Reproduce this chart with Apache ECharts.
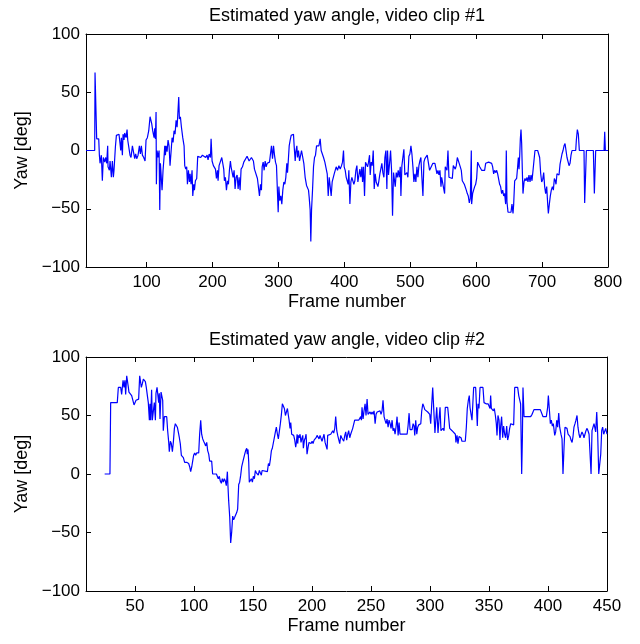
<!DOCTYPE html>
<html>
<head>
<meta charset="utf-8">
<script src="https://cdn.jsdelivr.net/npm/echarts@6/dist/echarts.min.js"></script>
<style>
html, body { margin: 0; padding: 0; background: #fff; }
#main { width: 640px; height: 644px; }
</style>
</head>
<body>
<div id="main"></div>
<script>
// [frame, yaw in deg]
var clip1Yaw = [
    [8,0],[21.2,0],[21.7,67],[23.7,67],[24.2,10],[27.3,10],[28.3,-4],[29.3,-11],[31.3,-4],[32.8,-26],
    [34.3,-6],[36.4,-10],[37.9,-6],[39.4,-11],[40.9,4],[41.4,-14],[43.5,-17],[44.5,-9],[46.5,-23],[48,-9],
    [49.5,-23],[50.5,-17],[52.6,3],[54.1,13],[56.6,14],[58.1,14],[59.6,6],[60.7,0],[61.7,11],[63.2,-4],
    [64.2,14],[65.7,9],[66.7,15],[68.8,11],[70.3,18],[71.3,9],[73.3,9],[74.8,-4],[76.3,-6],[78.4,4],
    [80.4,4],[81.9,-7],[83.4,-3],[84.9,-7],[87,-4],[89,4],[90.5,-3],[92,4],[93.6,-4],[95.6,-6],
    [97.6,-9],[99.1,9],[101.1,11],[103.2,17],[105.2,29],[106.2,30],[107.7,23],[109.2,17],[110.2,14],[111.3,11],
    [112.3,19],[113.3,10],[114.3,33],[114.8,-29],[115.8,0],[117.3,-6],[118.9,0],[119.9,-51],[120.9,-11],[122.4,-10],
    [123.4,-34],[124.9,-17],[126.4,-6],[127.5,4],[128.5,-4],[129.5,4],[131,-1],[132.5,9],[134,4],[135.5,-13],
    [137.6,3],[138.6,11],[140.1,7],[141.6,17],[143.1,14],[144.7,26],[146.2,20],[147.2,30],[148.7,46],[149.7,27],
    [151.2,29],[152.8,20],[154.8,11],[156.8,4],[157.8,-13],[159.3,-16],[160.8,-14],[161.9,-29],[163.4,-17],[164.9,-27],
    [165.9,-20],[167.4,-29],[168.9,-17],[170,-39],[171.5,-29],[172.5,-34],[174,-26],[176,-24],[177.5,-5],[179.6,-5],
    [182.1,-6],[184.6,-4],[187.2,-5],[189.7,-6],[191.7,-4],[193.2,-8],[194.8,-3],[196.8,-6],[197.8,10],[199.3,-9],
    [201.3,-13],[202.8,-13],[204.4,-16],[205.9,-24],[207.4,-17],[208.4,-26],[209.9,-13],[212,-13],[214,-6],[216,-5],
    [217,-16],[218,-26],[219.5,-23],[221.1,-34],[222.6,-26],[224.1,-29],[225.6,-17],[227.1,-9],[228.1,-14],[229.7,-13],
    [231.2,-23],[232.7,-17],[234.2,-33],[235.7,-23],[237.3,-21],[238.8,-33],[240.3,-23],[241.8,-34],[243.3,-16],[245.4,-14],
    [247.4,-10],[248.9,-10],[250.4,-9],[252.4,-5],[254,-4],[255.5,-9],[257,-9],[259,-6],[260.5,-5],[262,-9],
    [263.6,-16],[265.1,-17],[266.6,-17],[268.1,-24],[269.6,-23],[271.2,-39],[272.7,-29],[274.2,-34],[275.3,-14],[276.8,-10],
    [278.3,-17],[279.8,-9],[281.3,-14],[282.9,-11],[284.4,-10],[286.4,-10],[288.4,-11],[289.4,4],[291,-7],[292.5,4],
    [294,-4],[295.5,-10],[297,-13],[298.5,-14],[299.6,-53],[300.6,-31],[302.1,-43],[303.6,-39],[305.1,-46],[306.6,-34],
    [308.2,-27],[309.7,-29],[311.2,-23],[312.7,-11],[313.7,-19],[314.7,-11],[316.3,4],[317.8,9],[319.3,13],[320.8,14],
    [322.8,14],[323.8,4],[325.4,-9],[326.4,-1],[327.9,4],[328.9,-6],[330.4,0],[332,-9],[333.5,-9],[335,0],
    [337,0],[338.5,-11],[340.5,-23],[342.6,-30],[344.1,-31],[345.6,-34],[346.6,-40],[348.1,-51],[349.1,-78],[350.2,-51],
    [351.7,-34],[353.2,-14],[354.7,-6],[356.2,-4],[357.8,4],[359.3,4],[361.3,4],[363.3,10],[364.8,0],[366.4,0],
    [368.4,-6],[370.4,-10],[372.4,-11],[374,-20],[375.5,-39],[377,-23],[378.5,-31],[380,-39],[381.5,-27],[383.1,-26],
    [384.6,-20],[386.1,-20],[387.6,-14],[389.6,-17],[391.7,-13],[393.7,-16],[395.7,-13],[397.2,-10],[398.7,0],[399.7,-14],
    [401.3,-17],[402.8,-23],[404.3,-23],[405.8,-29],[406.8,-17],[408.4,-46],[409.9,-27],[411.4,-23],[412.9,-26],[414.4,-29],
    [415.9,-26],[417.5,-17],[419,-13],[420.5,-27],[422,-27],[423.5,-16],[425,-23],[426.6,-14],[427.6,-27],[429.1,-14],
    [430.6,-39],[432.1,-10],[433.7,-10],[435.2,-14],[436.7,-10],[438.2,-4],[439.2,-21],[440.7,-10],[442.3,-13],[443.8,0],
    [445.3,-33],[446.8,-20],[448.3,-27],[449.3,-26],[450.9,-31],[452.4,-26],[453.9,-20],[455.4,-20],[456.9,-11],[458.4,-19],
    [460,-23],[461.5,-6],[463,0],[464.5,-33],[465.5,0],[467,-21],[468.6,-11],[470.1,0],[471.6,-17],[473.1,-56],
    [474.6,-19],[476.2,-19],[477.2,-31],[478.7,-19],[480.2,-23],[481.7,-17],[483.2,-23],[484.8,-14],[485.8,-39],[487.3,-13],
    [488.8,-14],[490.3,1],[491.8,-21],[493.4,-21],[494.9,-19],[496.4,-23],[497.9,-5],[499.4,-3],[501,4],[502.5,-3],
    [504,-14],[505.5,-27],[507,-20],[508.5,-27],[510.1,-14],[511.6,-23],[513.1,-13],[514.6,-9],[516.1,-6],[517.6,-23],
    [519.2,-39],[520.7,-10],[522.2,-7],[523.7,-6],[525.7,-4],[527.3,-5],[529.3,-17],[530.8,-17],[532.3,-16],[534.3,-11],
    [537.4,-11],[539.5,-10],[540.5,-20],[542,-17],[543.5,-21],[545,-17],[546.6,-31],[547.6,-23],[549.1,-23],[550.6,-23],
    [552.1,-37],[553.1,-14],[554.7,-13],[555.7,-17],[557.2,0],[558.7,-23],[560.2,-23],[561.7,-24],[563.8,-24],[565.3,-13],
    [566.8,-12],[568.3,-16],[569.8,-13],[571.4,-6],[572.9,-6],[574.4,-7],[575.9,-14],[577.4,-17],[578.9,-26],[580.5,-27],
    [582,-29],[583.5,-30],[585,-34],[586.5,-37],[588,-39],[589.6,-45],[591.1,-41],[592.6,0],[593.1,-46],[594.6,-37],
    [596.1,-34],[597.7,-31],[599.2,-29],[600.7,-24],[602.2,-10],[603.7,-9],[605.3,-14],[606.8,-13],[608.3,-17],[609.8,-18],
    [611.3,-17],[612.8,-17],[614.4,-11],[615.9,-10],[617.4,-11],[618.9,-10],[620.4,-10],[621.9,-11],[623.5,-11],[625,-14],
    [626.5,-20],[628,-17],[629.5,-19],[631.1,-17],[632.6,-20],[634.1,-20],[635.6,-29],[637.1,-31],[638.6,-37],[640.2,-34],
    [641.7,-39],[643.2,-37],[644.7,-46],[645.7,0],[646.7,-44],[648.3,-53],[649.8,-54],[651.3,-53],[652.8,-53],[654.3,-46],
    [655.9,-54],[656.9,-46],[658.4,-26],[659.9,-27],[661.4,-24],[662.9,-14],[664,-6],[665,-16],[666,-5],[667,10],
    [668,18],[669,6],[670,-17],[671,-37],[672.6,-27],[674.1,-24],[675.6,-26],[677.1,-23],[678.6,-27],[680.1,-21],
    [681.7,-27],[683.2,-21],[684.7,-26],[686.2,-27],[687.7,-26],[689.2,0],[693.3,0],[695.3,0],[696.3,-6],[697.9,-20],
    [699.4,-27],[700.9,-25],[702.4,-19],[703.9,-31],[705.4,-37],[707,-31],[708.5,-46],[709.5,-54],[711,-46],[712.5,-39],
    [714,-34],[715.6,-31],[717.1,-34],[718.6,-24],[720.1,-26],[721.1,-29],[722.6,-20],[724.2,-21],[725.7,-21],[727.2,-12],
    [728.7,-11],[730.2,-3],[731.8,0],[733.3,4],[734.8,6],[736.3,6],[737.8,-6],[739.3,-7],[740.9,-13],[742.4,-11],
    [743.9,-4],[745.4,0],[751,0],[752,9],[753.5,18],[755,14],[756.5,0],[763.6,0],[764.6,-45],[766.2,-45],
    [767.2,0],[777.8,0],[779.3,-37],[780.3,-37],[781.3,0],[794,0],[795,16],[796,0],[800,0]
];

var clip2Yaw = [
    [24.3,0],[28.8,0],[29.4,61],[35,61],[35.9,74],[37.9,74],[38.7,68],[39.9,80],[40.7,74],[41.5,80],
    [42.1,68],[43,84],[43.8,84],[44.4,74],[44.9,70],[46.4,70],[47.2,67],[48.3,67],[49.2,59],[50,59],
    [50.9,63],[52,64],[53.1,64],[54,84],[54.8,83],[55.4,74],[56.2,77],[57.1,81],[57.9,82],[58.8,79],
    [59.6,74],[60.5,67],[61.3,61],[62.2,46],[62.7,60],[63.3,46],[64.1,72],[64.7,46],[65.6,46],[66.4,61],
    [67.3,46],[67.8,69],[68.7,74],[69.5,74],[70.1,61],[70.6,69],[71.2,47],[72.1,70],[72.9,69],[73.5,63],
    [74,37],[74.9,49],[75.7,49],[76.9,49],[77.7,37],[78.6,27],[79.1,19],[80,28],[80.8,26],[81.7,19],
    [82.5,27],[83.4,39],[84.2,43],[85.1,42],[85.9,40],[86.7,36],[87.6,31],[88.4,26],[89.3,16],[90.1,16],
    [91,14],[92.1,10],[93,11],[93.8,10],[94.7,9],[95.5,9],[96.4,6],[97.2,2],[98.1,6],[98.9,11],
    [99.7,16],[100.6,18],[101.4,16],[102.3,18],[103.1,17],[104,18],[104.8,34],[105.7,46],[106.5,34],[107.4,30],
    [108.2,28],[109.1,26],[109.9,24],[110.8,27],[111.6,20],[112.5,17],[113.3,11],[115,11],[115.8,0],[119,0],
    [119.8,-1],[120.6,-4],[121.5,-2],[122.3,-6],[123.2,-8],[124,-4],[124.9,-7],[125.7,-4],[126.6,-6],[127.4,-10],
    [128.3,2],[128.8,-10],[129.4,-23],[130.3,-37],[131.1,-59],[132,-49],[132.8,-36],[133.6,-39],[134.5,-37],[135.3,-37],
    [136.2,-33],[137,-30],[137.9,-9],[138.7,-7],[139.6,-1],[140.4,6],[141.3,10],[142.1,11],[143,17],[143.8,20],
    [144.7,22],[145.2,17],[145.8,21],[146.4,10],[146.9,-7],[147.8,-7],[148.6,-4],[149.5,-7],[150.3,-2],[151.2,-4],
    [152,3],[152.9,1],[153.7,2],[154.5,-1],[155.4,3],[156.2,1],[157.1,-1],[157.7,3],[162.2,2],[163.1,9],
    [163.9,7],[164.8,13],[165.6,20],[166.4,22],[167.3,23],[168.1,31],[169,36],[169.8,40],[170.7,34],[171.5,30],
    [172.4,30],[173.2,43],[174.1,51],[174.9,60],[175.8,60],[176.6,56],[177.5,50],[178.3,53],[179.2,56],[180,50],
    [180.6,46],[181.4,39],[182,44],[182.8,34],[183.7,33],[184.5,33],[185.4,29],[186.2,23],[186.8,27],[187.4,34],
    [187.9,26],[188.5,33],[189.1,31],[189.9,34],[190.7,27],[191.6,31],[192.2,33],[192.7,22],[193.6,29],[194.4,31],
    [195,34],[195.8,17],[196.7,23],[197.5,27],[198.4,26],[199.2,26],[200.1,28],[200.9,26],[201.8,29],[202.6,30],
    [203.5,31],[204.3,33],[205.2,34],[206,30],[206.8,33],[207.7,34],[208.5,28],[209.4,29],[210.2,34],[211.1,27],
    [211.9,27],[212.8,21],[213.3,33],[214.2,34],[215.9,34],[216.7,33],[217.6,37],[218.4,35],[219.3,39],[220.1,49],
    [221,37],[221.8,33],[222.7,34],[223.5,26],[224.4,33],[225.2,31],[226.1,31],[226.9,28],[227.8,33],[228.6,36],
    [229.4,29],[230.3,34],[231.1,37],[232,31],[232.8,34],[233.7,34],[234.5,39],[235.4,39],[236.2,46],[239.6,46],
    [240.5,47],[241.3,49],[241.9,46],[242.4,57],[243.3,47],[244.1,54],[245,60],[245.8,50],[246.7,64],[247.5,51],
    [248.4,51],[249.2,53],[250.1,51],[250.9,53],[251.8,51],[252.6,54],[253.5,43],[254.3,51],[255.2,53],[256,54],
    [256.8,53],[257.7,54],[258.5,51],[259.4,54],[260.2,63],[261.1,49],[261.9,46],[262.8,43],[263.6,47],[264.5,40],
    [265.3,46],[266.2,43],[267,39],[267.9,46],[268.7,37],[269.6,39],[270.4,34],[271.3,41],[272.1,49],[273,33],
    [273.8,44],[274.6,34],[275.5,33],[280.6,34],[281.4,41],[282.3,52],[283.1,38],[284,39],[284.8,38],[285.7,43],
    [286.5,41],[287.1,33],[287.9,46],[288.8,34],[289.6,40],[290.5,42],[291.3,41],[292.2,43],[293,54],[293.9,60],
    [294.7,58],[295.6,55],[296.4,55],[297.2,54],[298.1,53],[298.9,54],[299.8,51],[300.6,43],[301.5,60],[302.3,74],
    [303.2,55],[304.2,35],[305.7,57],[306.8,35],[307.6,46],[308.5,57],[309.3,37],[310.2,37],[311,39],[311.9,37],
    [313,57],[315,57],[315.8,56],[316.7,39],[317.8,38],[318.7,37],[319.5,37],[320.3,37],[321.5,34],[322,27],
    [322.9,33],[323.7,26],[324.6,32],[325.4,31],[326.3,31],[327.1,28],[329.9,28],[330.8,40],[331.6,56],[332.5,63],
    [333.3,67],[333.9,57],[334.8,51],[335.6,46],[336.2,46],[337,74],[338.7,74],[339.3,60],[340.1,41],[340.7,60],
    [341.5,56],[342.4,74],[344.9,74],[345.8,61],[347.5,60],[349.2,60],[350,59],[350.9,56],[351.4,67],[352,56],
    [352.8,57],[353.7,54],[354.5,56],[355.4,50],[356.2,43],[356.8,33],[357.6,50],[358.5,46],[359.3,29],[359.9,41],
    [360.7,49],[361.6,31],[362.4,41],[363.3,34],[364.1,31],[365,41],[365.8,29],[366.7,33],[367.5,39],[368.4,43],
    [370.9,42],[371.8,74],[374.3,74],[375.2,67],[376,66],[376.8,60],[377.7,0],[378.3,31],[378.8,74],[379.7,49],
    [385.3,49],[386.5,51],[387.3,53],[388.1,55],[393.5,55],[394.9,54],[395.8,49],[398.6,49],[399.7,57],[400.3,67],
    [401.1,56],[402,43],[402.8,46],[403.7,41],[404.5,43],[405.7,33],[406.5,36],[407.4,46],[408.2,40],[409.1,52],
    [409.9,40],[411,34],[411.9,30],[412.7,0],[413.6,23],[414.4,40],[415.3,39],[416.1,39],[417,34],[417.8,33],
    [418.7,32],[419.5,29],[420.4,27],[421.2,32],[422,40],[422.9,43],[423.7,46],[424.6,50],[425.4,40],[426.3,34],
    [427.1,31],[428,30],[428.8,36],[429.7,34],[430.5,31],[431.4,31],[432.2,37],[433.1,39],[433.9,37],[434.8,34],
    [435.6,34],[436.5,0],[437.3,37],[438.1,37],[439,43],[439.8,44],[440.4,36],[441.3,53],[442.1,34],[443,0],
    [443.8,0],[444.7,17],[445.5,37],[446.3,40],[447.2,34],[448,34],[448.9,39],[450,34]
];

var yawTicks = [-100, -50, 0, 50, 100];
var clip1FrameTicks = [100, 200, 300, 400, 500, 600, 700, 800];
var clip2FrameTicks = [50, 100, 150, 200, 250, 300, 350, 400, 450];
var clip1Range = [8, 800];
var clip2Range = [8.5, 450];

var FONT = "'Liberation Sans', Arial, Helvetica, sans-serif";
var lineStyle = { color: '#000', width: 1 };

function frameAxis(gridIndex, range, ticks, onTop) {
    return {
        type: 'value', gridIndex: gridIndex, position: onTop ? 'top' : 'bottom',
        min: range[0], max: range[1],
        name: onTop ? '' : 'Frame number', nameLocation: 'middle', nameGap: 26,
        nameTextStyle: { color: '#000', fontSize: 18, fontFamily: FONT },
        axisLine: { show: true, onZero: false, lineStyle: lineStyle },
        axisTick: { show: true, inside: true, length: 5, lineStyle: lineStyle, customValues: ticks },
        axisLabel: { show: !onTop, margin: 7, color: '#000', fontSize: 17, fontFamily: FONT, customValues: ticks },
        splitLine: { show: false }
    };
}

function yawAxis(gridIndex, onRight) {
    return {
        type: 'value', gridIndex: gridIndex, position: onRight ? 'right' : 'left',
        min: yawTicks[0], max: yawTicks[yawTicks.length - 1], interval: 50,
        name: onRight ? '' : 'Yaw [deg]', nameLocation: 'middle', nameGap: 54,
        nameTextStyle: { color: '#000', fontSize: 18, fontFamily: FONT },
        axisLine: { show: true, onZero: false, lineStyle: lineStyle },
        axisTick: { show: true, inside: true, length: 5, lineStyle: lineStyle },
        axisLabel: {
            show: !onRight, margin: 6, color: '#000', fontSize: 17, fontFamily: FONT,
            formatter: function (v) { return v < 0 ? '\u2212' + (-v) : String(v); }
        },
        splitLine: { show: false }
    };
}

var chart = echarts.init(document.getElementById('main'), null, { renderer: 'canvas' });
chart.setOption({
    backgroundColor: '#fff',
    animation: false,
    graphic: [
        { type: 'text', x: 347, y: 16, style: { text: 'Estimated yaw angle, video clip #1', fill: '#000',
            font: '18px ' + FONT, textAlign: 'center', textVerticalAlign: 'middle' } },
        { type: 'text', x: 347, y: 340, style: { text: 'Estimated yaw angle, video clip #2', fill: '#000',
            font: '18px ' + FONT, textAlign: 'center', textVerticalAlign: 'middle' } }
    ],
    grid: [
        { left: 86, top: 34, width: 522, height: 233 },
        { left: 86, top: 357, width: 521, height: 234 }
    ],
    xAxis: [
        frameAxis(0, clip1Range, clip1FrameTicks, false),
        frameAxis(0, clip1Range, clip1FrameTicks, true),
        frameAxis(1, clip2Range, clip2FrameTicks, false),
        frameAxis(1, clip2Range, clip2FrameTicks, true)
    ],
    yAxis: [
        yawAxis(0, false),
        yawAxis(0, true),
        yawAxis(1, false),
        yawAxis(1, true)
    ],
    series: [
        { type: 'line', xAxisIndex: 0, yAxisIndex: 0, data: clip1Yaw, showSymbol: false,
          lineStyle: { color: '#0000ff', width: 1.2 }, silent: true },
        { type: 'line', xAxisIndex: 2, yAxisIndex: 2, data: clip2Yaw, showSymbol: false,
          lineStyle: { color: '#0000ff', width: 1.2 }, silent: true }
    ]
});
</script>
</body>
</html>
